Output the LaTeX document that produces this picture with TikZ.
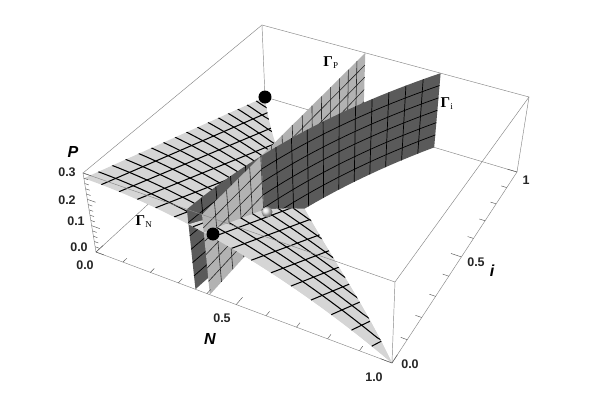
\documentclass[tikz,border=0pt]{standalone}
\usepackage{fontspec}
\setmainfont{Liberation Serif}
\newfontfamily\lsans{Liberation Sans}
\makeatletter
\def\pp@parse#1,#2,#3\pp@end{%
  \pgfmathsetmacro\pp@N{#1}%
  \pgfmathsetmacro\pp@I{#2}%
  \pgfmathsetmacro\pp@P{#3}%
  \pgfmathsetmacro\pp@wA{1-0.10037*\pp@N+0.22439*\pp@I}%
  \pgfmathsetmacro\pp@xA{(256.65*\pp@N+228.46*\pp@I+96)/\pp@wA}%
  \pgfmathsetmacro\pp@yA{(74.57*\pp@N-133.23*\pp@I+252)/\pp@wA}%
  \pgfmathsetmacro\pp@wB{1-0.11244*\pp@N+0.22497*\pp@I}%
  \pgfmathsetmacro\pp@xB{(267.59*\pp@N+237.94*\pp@I+83)/\pp@wB}%
  \pgfmathsetmacro\pp@yB{(77.29*\pp@N-142.38*\pp@I+173)/\pp@wB}%
  \pgfmathsetmacro\pp@t{\pp@P/0.3}%
  \pgfmathsetmacro\pp@x{\pp@xA+\pp@t*(\pp@xB-\pp@xA)}%
  \pgfmathsetmacro\pp@y{400-\pp@yA-\pp@t*(\pp@yB-\pp@yA)}%
  \pgfpoint{\pp@x pt}{\pp@y pt}%
}
\tikzdeclarecoordinatesystem{pp}{\pp@parse#1\pp@end}
\makeatother
\definecolor{gN}{RGB}{213,213,213}
\definecolor{gP}{RGB}{178,178,178}
\definecolor{gI}{RGB}{90,90,90}
\definecolor{boxc}{RGB}{135,135,135}
\definecolor{tickc}{RGB}{90,90,90}
\newcommand\GNall{%
  \fill[gN] (0,0) rectangle (600,400);
  \foreach \kk in {1,...,15}{%
    \pgfmathsetmacro\qq{\kk/16}%
    \draw[meshN] (pp cs:{\qq},0,{fN(\qq,0)}) -- (pp cs:{\qq},{imx(\qq)},0);
    \draw[meshN] plot[variable=\uu,domain=0:1,samples=41] (pp cs:{\uu},{\qq},{fN(\uu,\qq)});
  }}
\newcommand\GIpart[3]{%
  \fill[gI] plot[variable=\uu,domain=0:1,samples=17] (pp cs:{gi(#1+(#2-#1)*\uu)},{#1+(#2-#1)*\uu},0.3)
    -- plot[variable=\uu,domain=0:1,samples=17] (pp cs:{gi(#2-(#2-#1)*\uu)},{#2-(#2-#1)*\uu},0) -- cycle;
  \foreach \hh in {0.05,0.1,0.15,0.2,0.25}{%
    \draw[meshI] plot[variable=\uu,domain=0:1,samples=17] (pp cs:{gi(#1+(#2-#1)*\uu)},{#1+(#2-#1)*\uu},{\hh});
  }
  \foreach \kk in {#3}{%
    \pgfmathsetmacro\qq{\kk/16}%
    \draw[meshI] (pp cs:{gi(\qq)},{\qq},0) -- (pp cs:{gi(\qq)},{\qq},0.3);
  }}
\begin{document}
\begin{tikzpicture}[x=1pt,y=1pt,
  declare function={imx(\nn)=(1-\nn)*(1-0.45*\nn*(1-\nn));
    fN(\nn,\ii)=0.28*(1-\nn*\nn)*max(0,1-\ii/max(imx(\nn),0.001));
    gi(\ii)=0.36+0.08*\ii+0.25*\ii*\ii;},
  boxln/.style={draw=boxc,line width=0.45pt},
  tickln/.style={draw=tickc,line width=0.45pt},
  meshN/.style={draw=black,line width=1.05pt},
  meshP/.style={draw=black!85,line width=0.6pt},
  meshI/.style={draw=black,line width=0.7pt},
  tlab/.style={font=\lsans\fontsize{12.5}{14}\selectfont\bfseries,text=black!85,inner sep=0pt},
  alab/.style={font=\lsans\fontsize{16}{18}\selectfont\bfseries\itshape,inner sep=0pt},
  glab/.style={font=\fontsize{15}{16}\selectfont\bfseries,inner sep=0pt}]
\useasboundingbox (0,0) rectangle (600,400);
\fill[white] (0,0) rectangle (600,400);
% box corners
\coordinate (c000) at (pp cs:0,0,0);
\coordinate (c100) at (pp cs:1,0,0);
\coordinate (c110) at (pp cs:1,1,0);
\coordinate (c010) at (pp cs:0,1,0);
\coordinate (c001) at (pp cs:0,0,0.3);
\coordinate (c101) at (pp cs:1,0,0.3);
\coordinate (c111) at (pp cs:1,1,0.3);
\coordinate (c011) at (pp cs:0,1,0.3);
% hidden box edges
\draw[boxln] (c000) -- (c010) -- (c110);
\draw[boxln] (c010) -- (c011);
% Gamma_N (whole)
\begin{scope}
  \clip plot[variable=\uu,domain=0:1,samples=33] (pp cs:{\uu},0,{fN(\uu,0)})
    -- plot[variable=\uu,domain=0:1,samples=33] (pp cs:{1-\uu},{imx(1-\uu)},0) -- cycle;
  \GNall
\end{scope}
% Gamma_i, part behind Gamma_P
\GIpart{0}{0.315}{1,...,5}
% Gamma_N between the walls
\begin{scope}
  \clip plot[variable=\uu,domain=0:1,samples=5] (pp cs:{0.36+0.05*\uu},0,{fN(0.36+0.05*\uu,0)})
    -- (pp cs:0.41,0.315,{fN(0.41,0.315)})
    -- plot[variable=\uu,domain=0:1,samples=9] (pp cs:{gi(0.315-0.315*\uu)},{0.315-0.315*\uu},{fN(gi(0.315-0.315*\uu),0.315-0.315*\uu)}) -- cycle;
  \GNall
\end{scope}
% Gamma_P
\fill[gP] plot[variable=\uu,domain=0:1,samples=9] (pp cs:0.41,{\uu},0)
  -- plot[variable=\uu,domain=0:1,samples=9] (pp cs:0.41,{1-\uu},0.3) -- cycle;
\foreach \kk in {1,...,15}{%
  \pgfmathsetmacro\qq{\kk/16}%
  \draw[meshP] (pp cs:0.41,{\qq},0) -- (pp cs:0.41,{\qq},0.3);
}
\foreach \hh in {0.05,0.1,0.15,0.2,0.25}{%
  \draw[meshP] plot[variable=\uu,domain=0:1,samples=9] (pp cs:0.41,{\uu},{\hh});
}
% Gamma_i, front part
\GIpart{0.315}{1}{6,...,15}
% Gamma_N in front of both walls
\begin{scope}
  \clip plot[variable=\uu,domain=0:1,samples=25] (pp cs:{0.41+0.59*\uu},0,{fN(0.41+0.59*\uu,0)})
    -- plot[variable=\uu,domain=0:1,samples=25] (pp cs:{1-0.543*\uu},{imx(1-0.543*\uu)},0)
    -- plot[variable=\uu,domain=0:1,samples=9] (pp cs:{gi(0.483-0.168*\uu)},{0.483-0.168*\uu},{fN(gi(0.483-0.168*\uu),0.483-0.168*\uu)}) -- cycle;
  \GNall
\end{scope}
% visible box edges
\draw[boxln] (c001) -- (c101) -- (c111) -- (c011) -- cycle;
\draw[boxln] (c000) -- (c001);
\draw[boxln] (c100) -- (c101);
\draw[boxln] (c110) -- (c111);
\draw[boxln] (c000) -- (c100) -- (c110);
% ticks
\foreach \kk in {0,...,15}{%
  \pgfmathsetmacro\qq{0.02*\kk}%
  \pgfmathsetmacro\tkl{ifthenelse(mod(\kk,5)==0,0.03,0.015)}%
  \draw[tickln] (pp cs:0,0,{\qq}) -- (pp cs:{\tkl},0,{\qq});
}
\foreach \kk in {0,...,10}{%
  \pgfmathsetmacro\qq{0.1*\kk}%
  \pgfmathsetmacro\tkl{ifthenelse(mod(\kk,5)==0,0.035,0.02)}%
  \draw[tickln] (pp cs:{\qq},0,0) -- (pp cs:{\qq},{\tkl},0);
  \draw[tickln] (pp cs:1,{\qq},0) -- (pp cs:{1-\tkl},{\qq},0);
}
% equilibria
\fill[black] (c010) circle (6.5);
\node[circle,fill=black,minimum size=13pt,inner sep=0pt] (eqa) at (213,166) {};
\shade[ball color=gray!25] (267,188) circle (5.5);
% labels
\node[alab] (lP) at (73,248) {P};
\node[tlab] (p3) at (67,228) {0.3};
\node[tlab] (p2) at (67,200) {0.2};
\node[tlab] (p1) at (76,179) {0.1};
\node[tlab] (p0) at (79,153) {0.0};
\node[tlab] (n0) at (85,135) {0.0};
\node[tlab] (n5) at (222,82) {0.5};
\node[tlab] (n1) at (374,23) {1.0};
\node[alab] (lN) at (210,61) {N};
\node[tlab] (i0) at (410,36) {0.0};
\node[tlab] (i5) at (476,138) {0.5};
\node[alab] (lI) at (492,129) {i};
\node[tlab] (i1) at (526,220) {1};
\node[glab] (gP) at (331,337) {Γ\textsubscript{\normalfont\fontsize{9}{9}\selectfont P}};
\node[glab] (gI) at (447,296) {Γ\textsubscript{\normalfont\fontsize{9}{9}\selectfont i}};
\node[glab] (gN) at (144,178) {Γ\textsubscript{\normalfont\fontsize{9}{9}\selectfont N}};
\end{tikzpicture}
\end{document}
